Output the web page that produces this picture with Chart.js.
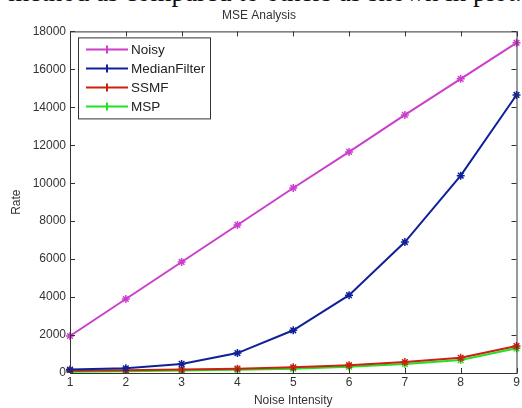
<!DOCTYPE html>
<html>
<head>
<meta charset="utf-8">
<script src="https://cdn.jsdelivr.net/npm/chart.js@4/dist/chart.umd.min.js"></script>
<style>
  html, body { margin: 0; padding: 0; background: #fff; overflow: hidden; }
  #wrap { position: relative; width: 522px; height: 408px; }
  #caption {
    position: absolute; left: 0; top: -21px; width: 530px;
    font-family: "Liberation Serif", "Times New Roman", serif; font-size: 27px;
    text-align: center; color: #111; white-space: nowrap; line-height: 27px;
  }
  canvas { position: absolute; left: 0; top: 0; }
</style>
</head>
<body>
<div id="wrap">
  <div id="caption">method as compared to others as shown in plot.</div>
  <canvas id="c" width="522" height="408"></canvas>
</div>
<script>
const noiseLevels = ['1', '2', '3', '4', '5', '6', '7', '8', '9'];
const noisy        = [1950, 3900, 5850, 7800, 9750, 11650, 13600, 15500, 17400];
const medianFilter = [180, 250, 480, 1050, 2250, 4100, 6900, 10400, 14650];
const ssmf         = [120, 150, 190, 230, 300, 410, 580, 800, 1420];
const msp          = [70, 95, 130, 170, 230, 330, 480, 680, 1300];
const yTicks       = [0, 2000, 4000, 6000, 8000, 10000, 12000, 14000, 16000, 18000];

const FONT = '"Liberation Sans", Arial, sans-serif';

// Box around the plot area plus inward tick marks on all four sides
const boxAxes = {
  id: 'boxAxes',
  afterDatasetsDraw(chart) {
    const { ctx, chartArea: a, scales } = chart;
    ctx.save();
    ctx.strokeStyle = '#333';
    ctx.lineWidth = 1;
    ctx.strokeRect(a.left + 0.5, a.top + 0.5, a.right - a.left, a.bottom - a.top);
    ctx.beginPath();
    const t = 5;
    scales.x.ticks.forEach((tk, i) => {
      const px = Math.round(scales.x.getPixelForTick(i)) + 0.5;
      ctx.moveTo(px, a.bottom); ctx.lineTo(px, a.bottom - t);
      ctx.moveTo(px, a.top); ctx.lineTo(px, a.top + t);
    });
    scales.y.ticks.forEach((tk) => {
      const py = Math.round(scales.y.getPixelForValue(tk.value)) + 0.5;
      ctx.moveTo(a.left, py); ctx.lineTo(a.left + t, py);
      ctx.moveTo(a.right, py); ctx.lineTo(a.right - t, py);
    });
    ctx.stroke();
    ctx.restore();
  }
};

// Boxed legend in the upper-left corner of the plot
const boxLegend = {
  id: 'boxLegend',
  afterDraw(chart) {
    const { ctx, chartArea: a } = chart;
    const ds = chart.data.datasets;
    const x0 = a.left + 8, y0 = a.top + 6, w = 132, rowH = 19, h = ds.length * rowH + 5;
    ctx.save();
    ctx.fillStyle = '#fff';
    ctx.fillRect(x0, y0, w, h);
    ctx.strokeStyle = '#333';
    ctx.lineWidth = 1;
    ctx.strokeRect(x0 + 0.5, y0 + 0.5, w, h);
    ctx.font = '13.5px ' + FONT;
    ctx.textBaseline = 'middle';
    ds.forEach((d, i) => {
      const cy = y0 + 12 + i * rowH;
      ctx.strokeStyle = d.borderColor;
      ctx.lineWidth = 2;
      ctx.beginPath();
      ctx.moveTo(x0 + 8, cy); ctx.lineTo(x0 + 50, cy);
      ctx.moveTo(x0 + 29, cy - 4); ctx.lineTo(x0 + 29, cy + 4);
      ctx.stroke();
      ctx.fillStyle = '#222';
      ctx.fillText(d.label, x0 + 53, cy + 1);
    });
    ctx.restore();
  }
};

function series(label, data, color) {
  return {
    label, data,
    borderColor: color, backgroundColor: color,
    borderWidth: 2,
    pointStyle: 'star', pointRadius: 4, pointBorderWidth: 1.5,
    pointBorderColor: color,
    tension: 0
  };
}

new Chart(document.getElementById('c'), {
  type: 'line',
  data: {
    labels: noiseLevels,
    datasets: [
      series('Noisy', noisy, '#cc3fcc'),
      series('MedianFilter', medianFilter, '#10209a'),
      series('SSMF', ssmf, '#cc2010'),
      series('MSP', msp, '#22e022')
    ]
  },
  options: {
    responsive: false,
    animation: false,
    layout: { padding: { left: 0, right: 4, top: 0, bottom: 0 } },
    plugins: {
      legend: { display: false },
      tooltip: { enabled: false },
      title: {
        display: true, text: 'MSE Analysis', color: '#333',
        font: { family: FONT, size: 12, weight: 'normal' },
        padding: { top: 8, bottom: 9 }
      }
    },
    scales: {
      x: {
        type: 'category', offset: false,
        grid: { display: false, drawTicks: false },
        border: { display: false },
        ticks: { color: '#333', font: { family: FONT, size: 12 }, padding: 2, maxRotation: 0 },
        title: { display: true, text: 'Noise Intensity', color: '#333', font: { family: FONT, size: 12 }, padding: { top: 2, bottom: 0 } },
        afterFit(s) { s.height = 35; }
      },
      y: {
        min: 0, max: 18000,
        afterBuildTicks(s) { s.ticks = yTicks.map(v => ({ value: v })); },
        grid: { display: false, drawTicks: false },
        border: { display: false },
        ticks: { color: '#333', font: { family: FONT, size: 12 }, padding: 4, callback: v => String(v) },
        title: { display: true, text: 'Rate', color: '#333', font: { family: FONT, size: 12 }, padding: { top: 9, bottom: 0 } },
        afterFit(s) { s.width = 70; }
      }
    }
  },
  plugins: [boxAxes, boxLegend]
});
</script>
</body>
</html>
